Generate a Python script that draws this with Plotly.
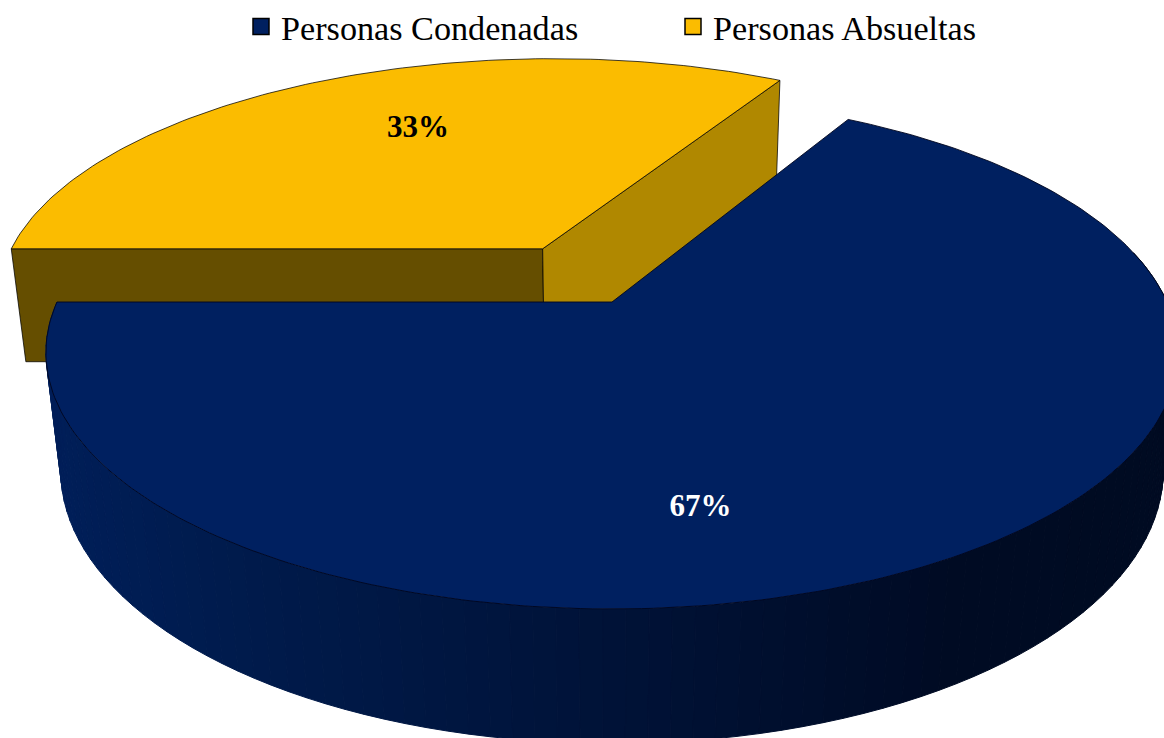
import numpy as np
import plotly.graph_objects as go

# data
categories = ["Personas Condenadas", "Personas Absueltas"]
values = [66.7, 33.3]
labels = ["67%", "33%"]

# style / projection
NAVY, GOLD = "#002060", "#FBBC00"
GOLD_LEFT, GOLD_RIGHT = "#654E00", "#B08800"
CX, CY, RX, RY = 612.0, 302.0, 555.0, 246.5
Q, R_, DEPTH = 0.197, 0.026, 119.5
EXPLODE = 0.2605
FONT = "Liberation Serif"
WALL_STOPS_X = [40, 250, 500, 750, 950, 1170]
WALL_STOPS_C = [(0, 31, 90), (0, 27, 76), (0, 21, 62), (0, 16, 48), (0, 11, 36), (0, 11, 34)]


def project(X, Y, Z=0.0):
    X, Y = np.asarray(X, float), np.asarray(Y, float)
    w = 1 + Q * Y + R_ * Z
    return CX + RX * X / w, CY - RY * Y / w + DEPTH * Z / w


span_navy = 360 * values[0] / sum(values)
navy_start, navy_end = 180.0, 180.0 + span_navy
gold_start, gold_end = navy_end - 360.0, 180.0
gold_mid = np.radians((gold_start + gold_end) / 2)
ex, ey = EXPLODE * np.cos(gold_mid), EXPLODE * np.sin(gold_mid)

fig = go.Figure()


def poly(xs, ys, fill, line="rgba(0,0,0,0.75)", width=1.0, name=None):
    fig.add_trace(go.Scatter(
        x=list(xs), y=list(ys), mode="lines", fill="toself", fillcolor=fill,
        line=dict(color=line, width=width), showlegend=False, hoverinfo="skip", name=name))


# gold slice: the two cut faces, then the top
a0, a1 = np.radians(gold_end), np.radians(gold_start)
for ang, col in ((a0, GOLD_LEFT), (a1, GOLD_RIGHT)):
    px, py = ex + np.cos(ang), ey + np.sin(ang)
    x1, y1 = project([ex, px], [ey, py], 0)
    x2, y2 = project([px, ex], [py, ey], 1)
    poly(np.r_[x1, x2, x1[0]], np.r_[y1, y2, y1[0]], col)

t = np.radians(np.linspace(gold_start, gold_end, 120))
x, y = project(ex + np.cos(t), ey + np.sin(t), 0)
cx0, cy0 = project([ex], [ey], 0)
poly(np.r_[cx0, x, cx0], np.r_[cy0, y, cy0], GOLD, name=categories[1])

# navy wall, in bands shaded by screen position
edges = np.radians(np.linspace(180, 372, 100))
for a, b in zip(edges[:-1], edges[1:]):
    x1, y1 = project(np.cos([a, b]), np.sin([a, b]), 0)
    x2, y2 = project(np.cos([b, a]), np.sin([b, a]), 1)
    mx = (x1.mean() + x2.mean()) / 2
    rgb = [int(np.interp(mx, WALL_STOPS_X, [c[i] for c in WALL_STOPS_C])) for i in range(3)]
    col = f"rgb({rgb[0]},{rgb[1]},{rgb[2]})"
    poly(np.r_[x1, x2, x1[0]], np.r_[y1, y2, y1[0]], col, line=col, width=1)

# navy top
t = np.radians(np.linspace(navy_start, navy_end, 240))
x, y = project(np.cos(t), np.sin(t), 0)
c0x, c0y = project([0], [0], 0)
poly(np.r_[c0x, x, c0x], np.r_[c0y, y, c0y], NAVY, line="rgba(0,5,30,0.9)", name=categories[0])

# data labels, placed in the plane of each slice
lab_ang = np.radians([-79.2, 115.0])
lab_rad = [0.731, 0.651]
lx0, ly0 = project([lab_rad[0] * np.cos(lab_ang[0])], [lab_rad[0] * np.sin(lab_ang[0])], 0)
lx1, ly1 = project([ex + lab_rad[1] * np.cos(lab_ang[1])], [ey + lab_rad[1] * np.sin(lab_ang[1])], 0)
for lx, ly, txt, col in ((lx0, ly0, labels[0], "white"), (lx1, ly1, labels[1], "black")):
    fig.add_trace(go.Scatter(x=lx, y=ly, mode="text", text=[txt], textposition="middle center",
                             textfont=dict(family=FONT, size=31, color=col, weight="bold"),
                             showlegend=False, hoverinfo="skip"))

# legend entries
for name, col in zip(categories, (NAVY, GOLD)):
    fig.add_trace(go.Scatter(x=[None], y=[None], mode="markers", name=name,
                             marker=dict(symbol="square", size=17, color=col,
                                         line=dict(color="black", width=1.5))))

fig.update_layout(
    width=1164, height=738, margin=dict(l=0, r=0, t=0, b=0, pad=0, autoexpand=False),
    paper_bgcolor="white", plot_bgcolor="white", hovermode=False,
    xaxis=dict(range=[0, 1164], visible=False, fixedrange=True),
    yaxis=dict(range=[738, 0], visible=False, fixedrange=True),
    legend=dict(orientation="h", x=241 / 1164, xanchor="left", y=1.003, yanchor="top",
                entrywidth=387, entrywidthmode="pixels", itemsizing="trace",
                bgcolor="rgba(0,0,0,0)", font=dict(family=FONT, size=34.2, color="black")),
)
fig.write_html("out.html", config=dict(displayModeBar=False),
               post_script="document.body.style.margin='0';")
